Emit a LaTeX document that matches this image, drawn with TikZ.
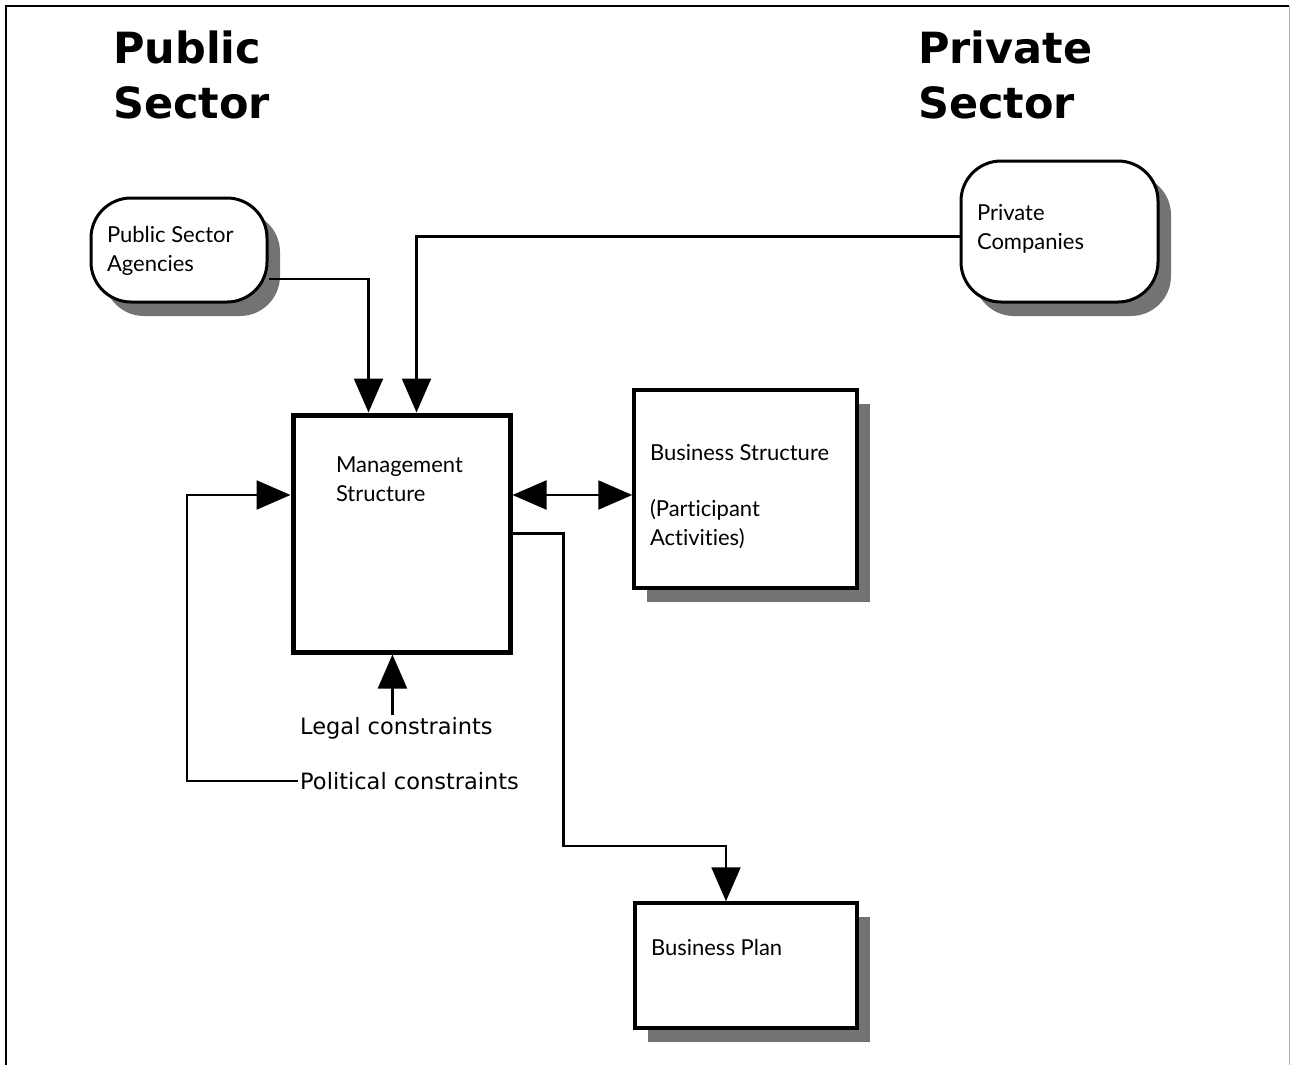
\documentclass[tikz,border=0pt]{standalone}
\usepackage{fontspec}
\setmainfont{Lato}[Ligatures=NoCommon]
\newfontfamily\titlefont{DejaVu Sans}
\newfontfamily\notefont{DejaVu Sans}
\usetikzlibrary{positioning,arrows.meta,shadows}

% text set at the top left of a box of fixed size
\newcommand{\boxtext}[5]{\parbox[c][#2][t]{#1}{\raggedright\leftskip=#3\relax\vspace*{#4}#5\par}}

\begin{document}
\begin{tikzpicture}[
    x=1pt, y=-1pt,
    every node/.style={font=\fontsize{22}{29}\selectfont},
    box/.style={rectangle, draw, fill=white, line width=3.5pt, inner sep=0pt,
        drop shadow={shadow xshift=13pt, shadow yshift=-14pt, fill=black!55, opacity=1}},
    mbox/.style={rectangle, draw, fill=white, line width=5pt, inner sep=0pt},
    roundbox/.style={box, rounded corners=40pt, line width=3pt},
    heading/.style={font=\titlefont\bfseries\fontsize{43}{55}\selectfont, align=left, inner sep=0pt, anchor=north west},
    note/.style={font=\notefont\fontsize{22.5}{29}\selectfont, inner sep=2pt, anchor=west},
    arrow/.style={line width=2.2pt, -{Triangle[length=34pt,width=29pt]}},
    dblarrow/.style={line width=2.2pt, {Triangle[length=34pt,width=29pt]}-{Triangle[length=34pt,width=29pt]}}
]
\useasboundingbox (0,0) rectangle (1291,1065);
\draw[line width=2pt] (6,1075) |- (1289,6);
\draw[line width=1pt, black!30] (1289,6) -- (1289,1075);

\node[heading] (pubtitle) at (113,31) {Public\\Sector};
\node[heading] (privtitle) at (918,31) {Private\\Sector};

\node[roundbox] (psa) at (179,250) {\boxtext{176pt}{104pt}{16pt}{28pt}{Public Sector\\Agencies}};
\node[roundbox] (pc) at (1059.5,231.5) {\boxtext{197pt}{141pt}{16pt}{43pt}{Private\\Companies}};
\node[mbox] (mgmt) at (401.5,533.5) {\boxtext{217pt}{237pt}{43pt}{42pt}{Management\\Structure}};
\node[box] (bs) at (745.5,489) {\boxtext{223pt}{198pt}{16pt}{54pt}{Business Structure\\[27pt](Participant\\Activities)}};
\node[box] (bp) at (746,965.5) {\boxtext{222pt}{125pt}{16pt}{36pt}{Business Plan}};

\node[note] (legal) at (298,728) {Legal constraints};
\node[note] (pol) at (298,781) {Political constraints};

\draw[arrow] (psa.-18) -| ([xshift=-33pt]mgmt.north);
\draw[arrow] ([yshift=-5pt]pc.west) -| ([xshift=15pt]mgmt.north);
\draw[dblarrow] ([yshift=38.5pt]mgmt.east) -- ([yshift=38.5pt]mgmt.east -| bs.west);
\draw[arrow] (pol.west) -- ++(-111,0) |- ([yshift=38.5pt]mgmt.west);
\draw[arrow] ([xshift=-4pt]legal.north) -- ([xshift=-4pt]legal.north |- mgmt.south);
\draw[arrow] (mgmt.east) -- ++(51,0) |- ([xshift=-20pt,yshift=55pt]bp.north) -- ([xshift=-20pt]bp.north);
\end{tikzpicture}
\end{document}
